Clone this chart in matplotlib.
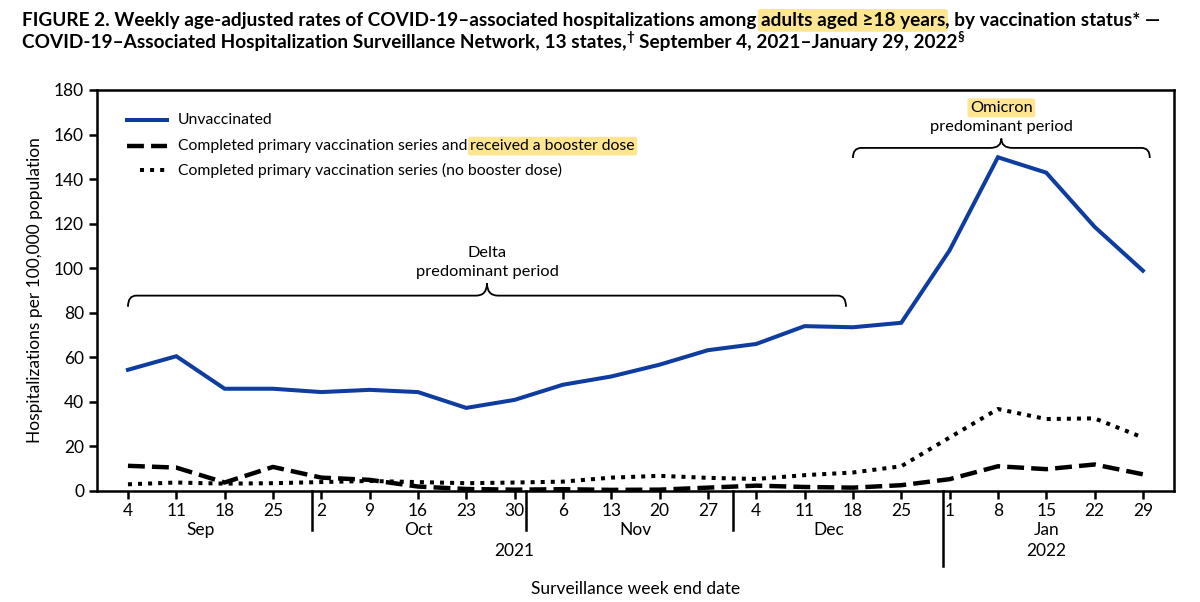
import matplotlib
matplotlib.use("Agg")
import matplotlib.pyplot as plt
import matplotlib.dates as mdates
import matplotlib.transforms as mtransforms
from matplotlib.path import Path
from matplotlib.patches import PathPatch
import pandas as pd

plt.rcParams["font.family"] = ["Lato", "DejaVu Sans"]

week_end = ["2021-09-04", "2021-09-11", "2021-09-18", "2021-09-25",
            "2021-10-02", "2021-10-09", "2021-10-16", "2021-10-23", "2021-10-30",
            "2021-11-06", "2021-11-13", "2021-11-20", "2021-11-27",
            "2021-12-04", "2021-12-11", "2021-12-18", "2021-12-25",
            "2022-01-01", "2022-01-08", "2022-01-15", "2022-01-22", "2022-01-29"]
unvaccinated = [54.4, 60.5, 45.9, 45.9, 44.4, 45.4, 44.4, 37.3, 40.9, 47.7, 51.4,
                56.7, 63.2, 66.0, 74.0, 73.5, 75.5, 108.0, 149.8, 142.9, 118.6, 98.9]
booster = [11.3, 10.5, 3.8, 10.8, 6.0, 5.0, 2.0, 0.9, 0.6, 0.8, 0.5,
           0.6, 1.5, 2.4, 1.8, 1.5, 2.6, 5.3, 11.1, 9.8, 11.9, 7.5]
no_booster = [3.0, 3.8, 3.3, 3.5, 4.0, 4.5, 4.0, 3.5, 3.8, 4.2, 6.0,
              6.8, 5.9, 5.4, 7.1, 8.3, 11.1, 24.0, 36.8, 32.3, 32.6, 24.0]

months = ["Sep", "Oct", "Nov", "Dec", "Jan"]
month_starts = ["2021-10-01", "2021-11-01", "2021-12-01", "2022-01-01"]
years = ["2021", "2022"]
delta_period = ["2021-09-04", "2021-12-17"]
omicron_period = ["2021-12-18", "2022-01-30"]

BLUE = "#0f3c9f"
HIGHLIGHT = "#fde68f"
DASH = (0, (3.8, 1.6))
DOT = (0, (1.0, 1.5))

dates = pd.to_datetime(week_end)
x = mdates.date2num(dates)


def draw_brace(ax, x0, x1, y, r_end, h_end, r_mid, h_mid):
    xm = (x0 + x1) / 2
    verts = [(x0, y - h_end), (x0, y), (x0 + r_end, y),
             (xm - r_mid, y), (xm, y), (xm, y + h_mid),
             (xm, y), (xm + r_mid, y),
             (x1 - r_end, y), (x1, y), (x1, y - h_end)]
    codes = [Path.MOVETO, Path.CURVE3, Path.CURVE3,
             Path.LINETO, Path.CURVE3, Path.CURVE3,
             Path.CURVE3, Path.CURVE3,
             Path.LINETO, Path.CURVE3, Path.CURVE3]
    ax.add_patch(PathPatch(Path(verts, codes), fc="none", ec="black", lw=1.3))


def rich_text(fig, x0, y0, parts, renderer, size, weight="normal"):
    # put text pieces one after another, spaces measured separately
    probe = fig.text(0, 0, "x x", fontsize=size, fontweight=weight)
    w2 = probe.get_window_extent(renderer).width
    probe.set_text("xx")
    space = (w2 - probe.get_window_extent(renderer).width) / fig.bbox.width
    probe.remove()
    xpos = x0
    for txt, opts in parts:
        opts = dict(opts)
        dy = opts.pop("dy", 0)
        gap = opts.pop("gap", True)
        fs = opts.pop("fontsize", size)
        t = fig.text(xpos, y0 + dy, txt, fontsize=fs, fontweight=weight,
                     va="baseline", **opts)
        xpos += t.get_window_extent(renderer).width / fig.bbox.width
        if gap:
            xpos += space


fig = plt.figure(figsize=(12, 6.02), dpi=100)
ax = fig.add_axes([0.0808, 0.1844, 0.8975, 0.6661])
renderer = fig.canvas.get_renderer()

ax.plot(x, no_booster, color="black", lw=2.9, linestyle=DOT, zorder=3)
ax.plot(x, booster, color="black", lw=3.2, linestyle=DASH, zorder=4)
ax.plot(x, unvaccinated, color=BLUE, lw=2.9, zorder=5, solid_joinstyle="miter")

ax.set_ylim(0, 180)
ax.set_yticks(range(0, 181, 20))
ax.set_xlim(x[0] - 4.49, x[0] + 151.5)
ax.set_xticks(x)
ax.set_xticklabels([str(d.day) for d in dates])
for s in ax.spines.values():
    s.set_linewidth(1.8)
ax.tick_params(axis="both", direction="out", length=5.8, width=1.8, labelsize=12.5)
ax.tick_params(axis="x", pad=3)
ax.set_ylabel("Hospitalizations per 100,000 population", fontsize=12.5, labelpad=8)
ax.set_xlabel("Surveillance week end date", fontsize=12.5, labelpad=0)
ax.xaxis.set_label_coords(0.5, -0.225)

# month / year labels and separators under the axis
trans = mtransforms.blended_transform_factory(ax.transData, ax.transAxes)
for m in months:
    xs = x[[d.strftime("%b") == m for d in dates]]
    ax.text(xs.mean(), -0.098, m, transform=trans, ha="center", va="center", fontsize=12.5)
for ms in month_starts:
    year_break = ms.endswith("01-01")
    xb = mdates.date2num(pd.Timestamp(ms)) - (1.0 if year_break else 0.3)
    y_end = -0.187 if year_break else -0.097
    ax.plot([xb, xb], [0, y_end], transform=trans, color="black", lw=1.8, clip_on=False)
for yr in years:
    xs = x[[str(d.year) == yr for d in dates]]
    lo = mdates.date2num(pd.Timestamp(yr + "-01-01")) if yr == "2022" else xs.min()
    hi = xs.max()
    ax.text((lo + hi) / 2, -0.150, yr, transform=trans, ha="center", va="center", fontsize=12.5)

# period braces
d0, d1 = mdates.date2num(pd.to_datetime(delta_period))
draw_brace(ax, d0, d1, 87.7, 1.2, 5.0, 1.6, 5.5)
ax.text((d0 + d1) / 2, 107, "Delta", ha="center", va="center", fontsize=11.8)
ax.text((d0 + d1) / 2, 98.5, "predominant period", ha="center", va="center", fontsize=11.8)
o0, o1 = mdates.date2num(pd.to_datetime(omicron_period))
draw_brace(ax, o0, o1, 154, 1.2, 4.5, 1.6, 4.2)
ax.text((o0 + o1) / 2, 172, "Omicron", ha="center", va="center", fontsize=11.8,
        bbox=dict(boxstyle="round,pad=0.15", fc=HIGHLIGHT, ec="none"))
ax.text((o0 + o1) / 2, 163.5, "predominant period", ha="center", va="center", fontsize=11.8)

# legend drawn by hand
rows = [0.925, 0.860, 0.800]
leg_size = 11.3
ax.plot([0.028, 0.065], [rows[0]] * 2, transform=ax.transAxes, color=BLUE, lw=2.9)
ax.plot([0.028, 0.065], [rows[1]] * 2, transform=ax.transAxes, color="black", lw=3.2,
        linestyle=DASH)
ax.plot([0.040, 0.066], [rows[2]] * 2, transform=ax.transAxes, color="black", lw=2.9,
        linestyle=DOT)
ax.text(0.075, rows[0], "Unvaccinated", transform=ax.transAxes, va="center", fontsize=leg_size)
t = ax.text(0.075, rows[1], "Completed primary vaccination series and", transform=ax.transAxes,
            va="center", fontsize=leg_size)
bb = t.get_window_extent(renderer).transformed(ax.transAxes.inverted())
ax.text(bb.x1 + 0.003, rows[1], "received a booster dose", transform=ax.transAxes,
        va="center", fontsize=leg_size,
        bbox=dict(boxstyle="round,pad=0.15", fc=HIGHLIGHT, ec="none"))
ax.text(0.075, rows[2], "Completed primary vaccination series (no booster dose)",
        transform=ax.transAxes, va="center", fontsize=leg_size)

# title with highlighted phrase and footnote marks
title_size = 13.7
rich_text(fig, 0.018, 0.957, [
    ("FIGURE 2. Weekly age-adjusted rates of COVID-19–associated hospitalizations among", {}),
    ("adults aged ≥18 years", {"bbox": dict(boxstyle="round,pad=0.15", fc=HIGHLIGHT, ec="none"),
                               "gap": False}),
    (", by vaccination status* —", {}),
], renderer, title_size, weight="bold")
rich_text(fig, 0.018, 0.920, [
    ("COVID-19–Associated Hospitalization Surveillance Network, 13 states,", {"gap": False}),
    ("†", {"dy": 0.012, "fontsize": 9.5}),
    ("September 4, 2021–January 29, 2022", {"gap": False}),
    ("§", {"dy": 0.012, "fontsize": 9.5}),
], renderer, title_size, weight="bold")

fig.savefig("out.png", dpi=100)
